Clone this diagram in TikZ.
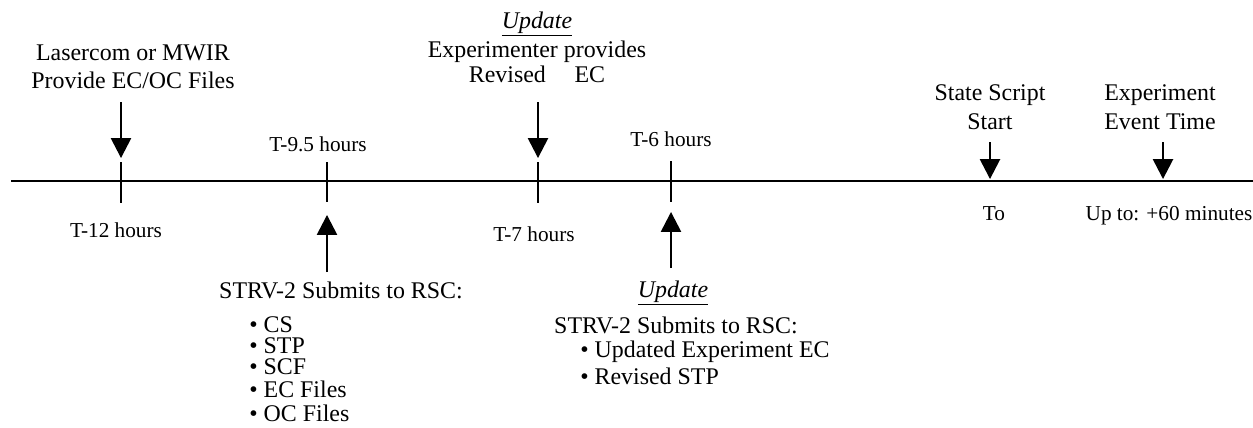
\documentclass[tikz,border=0pt]{standalone}
\usepackage{fontspec}
\setmainfont{Liberation Serif}
\usetikzlibrary{arrows.meta}

\tikzset{
  bigtext/.style={font=\fontsize{13.6}{16}\selectfont, anchor=base, inner sep=0pt},
  smalltext/.style={font=\fontsize{12.1}{14}\selectfont, anchor=base, inner sep=0pt},
  listitem/.style={font=\fontsize{13.6}{16}\selectfont, anchor=base west, inner sep=0pt},
  timetick/.style={line width=0.85pt},
  eventarrow/.style={line width=0.85pt, -{Triangle[width=11.5pt,length=11.3pt]}},
}

\begin{document}
\begin{tikzpicture}[x=0.02cm, y=-0.02cm]
      \useasboundingbox (0,0) rectangle (1253,427);  % page frame

      % time line
      \coordinate (lineL) at (11,181);
      \coordinate (lineR) at (1253,181);
      \draw[line width=1.15pt] (lineL) -- (lineR);  % main line

      % T-12 hours
      \node[bigtext] (laser) at (133,60) {Lasercom or MWIR};  % event label
      \node[bigtext] (provide) at (133,88) {Provide EC/OC Files};  % event label
      \coordinate (arrA) at (121,102);
      \coordinate (tipA) at (121,158);
      \draw[eventarrow] (arrA) -- (tipA);  % event arrow
      \coordinate (tickAt) at (121,162);
      \coordinate (tickAb) at (121,203);
      \draw[timetick] (tickAt) -- (tickAb);  % tick
      \node[smalltext] (timeA) at (116,237) {T-12 hours};  % time label

      % T-9.5 hours
      \node[smalltext] (timeB) at (318,151) {T-9.5 hours};  % time label
      \coordinate (tickBt) at (327,162);
      \coordinate (tickBb) at (327,202);
      \draw[timetick] (tickBt) -- (tickBb);  % tick
      \coordinate (arrB) at (327,272);
      \coordinate (tipB) at (327,215);
      \draw[eventarrow] (arrB) -- (tipB);  % event arrow
      \node[bigtext] (submitB) at (341,298) {STRV-2 Submits to RSC:};  % submit label
      \node[listitem] (cs) at (249,332) {\textbullet\ CS};  % list
      \node[listitem] (stp) at (249,353) {\textbullet\ STP};
      \node[listitem] (scf) at (249,374) {\textbullet\ SCF};
      \node[listitem] (ecf) at (249,397) {\textbullet\ EC Files};
      \node[listitem] (ocf) at (249,421) {\textbullet\ OC Files};

      % T-7 hours
      \node[bigtext] (updC) at (537,28) {\underline{\textit{Update}}};  % update label
      \node[bigtext] (exper) at (537,57) {Experimenter provides};
      \node[bigtext] (revised) at (537,82) {Revised\hspace{1.2em}EC};
      \coordinate (arrC) at (538,102);
      \coordinate (tipC) at (538,158);
      \draw[eventarrow] (arrC) -- (tipC);  % event arrow
      \coordinate (tickCt) at (538,162);
      \coordinate (tickCb) at (538,203);
      \draw[timetick] (tickCt) -- (tickCb);  % tick
      \node[smalltext] (timeC) at (534,241) {T-7 hours};  % time label

      % T-6 hours
      \node[smalltext] (timeD) at (671,146) {T-6 hours};  % time label
      \coordinate (tickDt) at (671,161);
      \coordinate (tickDb) at (671,202);
      \draw[timetick] (tickDt) -- (tickDb);  % tick
      \coordinate (arrD) at (671,268);
      \coordinate (tipD) at (671,212);
      \draw[eventarrow] (arrD) -- (tipD);  % event arrow
      \node[bigtext] (updD) at (673,297) {\underline{\textit{Update}}};  % update label
      \node[bigtext] (submitD) at (676,333) {STRV-2 Submits to RSC:};  % submit label
      \node[listitem] (updexp) at (580,357) {\textbullet\ Updated Experiment EC};  % list
      \node[listitem] (revstp) at (580,384) {\textbullet\ Revised STP};

      % state script start
      \node[bigtext] (state) at (990,100) {State Script};  % event label
      \node[bigtext] (start) at (990,129) {Start};
      \coordinate (arrE) at (990,142);
      \coordinate (tipE) at (990,179);
      \draw[eventarrow] (arrE) -- (tipE);  % event arrow
      \node[smalltext] (timeE) at (994,220) {To};  % time label

      % experiment event time
      \node[bigtext] (expmt) at (1160,100) {Experiment};  % event label
      \node[bigtext] (evtime) at (1160,129) {Event Time};
      \coordinate (arrF) at (1163,142);
      \coordinate (tipF) at (1163,179);
      \draw[eventarrow] (arrF) -- (tipF);  % event arrow
      \node[smalltext] (timeF) at (1169,220) {Up to: +60 minutes};  % time label
\end{tikzpicture}
\end{document}
